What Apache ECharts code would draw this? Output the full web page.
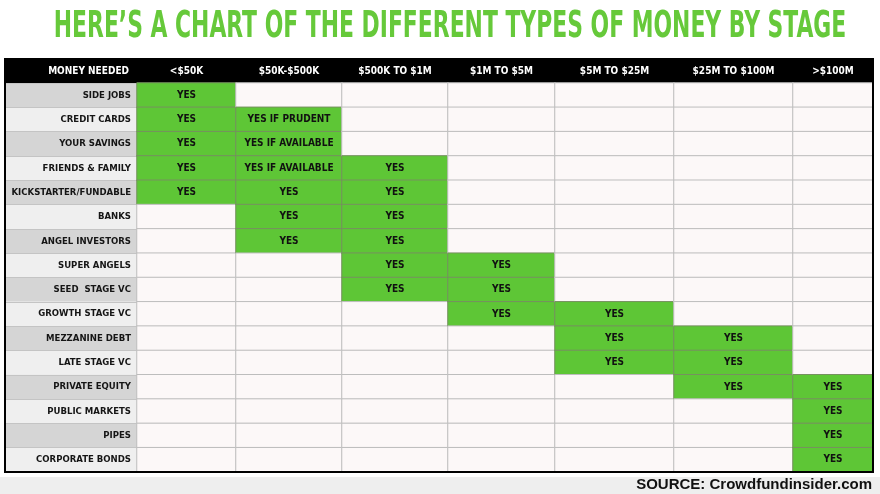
<!DOCTYPE html>
<html>
<head>
<meta charset="utf-8">
<script src="https://cdn.jsdelivr.net/npm/echarts@6/dist/echarts.min.js"></script>
<style>html,body{margin:0;padding:0;background:#fff}#c{width:880px;height:494px}</style>
</head>
<body>
<div id="c"></div>
<script>
// ---- data ----
const titleText = 'HERE\u2019S A CHART OF THE DIFFERENT TYPES OF MONEY BY STAGE';
const headerLabel = 'MONEY NEEDED';
const sourceText = 'SOURCE: Crowdfundinsider.com';
const columns = ['<$50K', '$50K-$500K', '$500K TO $1M', '$1M TO $5M', '$5M TO $25M', '$25M TO $100M', '>$100M'];
const rowLabels = ['SIDE JOBS', 'CREDIT CARDS', 'YOUR SAVINGS', 'FRIENDS & FAMILY', 'KICKSTARTER/FUNDABLE', 'BANKS',
  'ANGEL INVESTORS', 'SUPER ANGELS', 'SEED  STAGE VC', 'GROWTH STAGE VC', 'MEZZANINE DEBT', 'LATE STAGE VC',
  'PRIVATE EQUITY', 'PUBLIC MARKETS', 'PIPES', 'CORPORATE BONDS'];
const colUnder50K   = ['YES','YES','YES','YES','YES','','','','','','','','','','',''];
const col50Kto500K  = ['','YES IF PRUDENT','YES IF AVAILABLE','YES IF AVAILABLE','YES','YES','YES','','','','','','','','',''];
const col500Kto1M   = ['','','','YES','YES','YES','YES','YES','YES','','','','','','',''];
const col1Mto5M     = ['','','','','','','','YES','YES','YES','','','','','',''];
const col5Mto25M    = ['','','','','','','','','','YES','YES','YES','','','',''];
const col25Mto100M  = ['','','','','','','','','','','YES','YES','YES','','',''];
const colOver100M   = ['','','','','','','','','','','','','YES','YES','YES','YES'];
const cellTexts = [colUnder50K, col50Kto500K, col500Kto1M, col1Mto5M, col5Mto25M, col25Mto100M, colOver100M];

// ---- layout (sizes only) ----
const colEdges = [5, 137, 236, 342, 448, 555, 674, 793, 873];
const tableTop = 83, tableBottom = 472;
const FONT = '"DejaVu Sans Condensed", "Liberation Sans Narrow", sans-serif';

const grids = [], xAxes = [], yAxes = [], series = [];
// label column grid
grids.push({ left: colEdges[0], top: tableTop, width: colEdges[1] - colEdges[0], height: tableBottom - tableTop, outerBoundsMode: 'none', containLabel: false });
xAxes.push({ gridIndex: 0, type: 'category', data: [''], show: false });
yAxes.push({
  gridIndex: 0, type: 'category', data: rowLabels, inverse: true, position: 'right',
  name: headerLabel, nameLocation: 'start', nameGap: 7,
  nameTextStyle: { color: '#fff', fontFamily: FONT, fontWeight: 'bold', fontSize: 10, align: 'right', verticalAlign: 'bottom', padding: [0, 8, 0, 0] },
  axisLine: { show: false }, axisTick: { show: false },
  axisLabel: { inside: true, margin: 6, color: '#151515', fontFamily: FONT, fontWeight: 'bold', fontSize: 9.5 },
  splitLine: { show: true, lineStyle: { color: '#c4c4c4', width: 1 } },
  splitArea: { show: true, areaStyle: { color: ['#d5d5d5', '#efefef'] } }
});
series.push({ type: 'heatmap', xAxisIndex: 0, yAxisIndex: 0, data: [], silent: true });

columns.forEach((name, i) => {
  const gi = i + 1;
  grids.push({ left: colEdges[gi], top: tableTop, width: colEdges[gi + 1] - colEdges[gi], height: tableBottom - tableTop, outerBoundsMode: 'none', containLabel: false });
  xAxes.push({
    gridIndex: gi, type: 'category', data: [name], position: 'top',
    axisLine: { show: false }, axisTick: { show: false },
    axisLabel: { color: '#fff', fontFamily: FONT, fontWeight: 'bold', fontSize: 10, margin: 7 }
  });
  yAxes.push({ gridIndex: gi, type: 'category', data: rowLabels, inverse: true, show: false });
  const texts = cellTexts[i];
  series.push({
    type: 'heatmap', xAxisIndex: gi, yAxisIndex: gi,
    data: texts.map((t, r) => t
      ? { value: [0, r, 1], itemStyle: { borderColor: '#76915f' } }
      : { value: [0, r, 0] }),
    itemStyle: { borderColor: '#bdbdbd', borderWidth: 1 },
    label: {
      show: true, color: '#111', fontFamily: FONT, fontWeight: 'bold', fontSize: 10,
      formatter: p => texts[p.value[1]]
    },
    emphasis: { disabled: true }
  });
});

const chart = echarts.init(document.getElementById('c'), null, { renderer: 'canvas' });
chart.setOption({
  backgroundColor: '#ffffff',
  animation: false,
  grid: grids, xAxis: xAxes, yAxis: yAxes, series: series,
  visualMap: {
    type: 'piecewise', show: false, seriesIndex: [1, 2, 3, 4, 5, 6, 7], dimension: 2,
    pieces: [{ value: 0, color: '#fcf8f8' }, { value: 1, color: '#5ec636' }]
  },
  graphic: [
    { type: 'rect', z: -10, shape: { x: 5, y: 59, width: 868, height: 24 }, style: { fill: '#000' } },
    { type: 'rect', z: -10, shape: { x: 0, y: 477, width: 880, height: 17 }, style: { fill: '#eeeeee' } },
    { type: 'rect', z: 100, shape: { x: 5, y: 59, width: 868, height: 413 }, style: { fill: 'none', stroke: '#000', lineWidth: 2 } },
    {
      type: 'text', z: 100, x: 450, y: 27, scaleX: 0.64,
      style: { text: titleText, fill: '#66c93a', font: 'bold 38px ' + FONT, textAlign: 'center', textVerticalAlign: 'middle' }
    },
    {
      type: 'text', z: 100, x: 872, y: 485,
      style: { text: sourceText, fill: '#111', font: 'bold 15px "Liberation Sans", Arial, sans-serif', textAlign: 'right', textVerticalAlign: 'middle' }
    }
  ]
});
</script>
</body>
</html>
